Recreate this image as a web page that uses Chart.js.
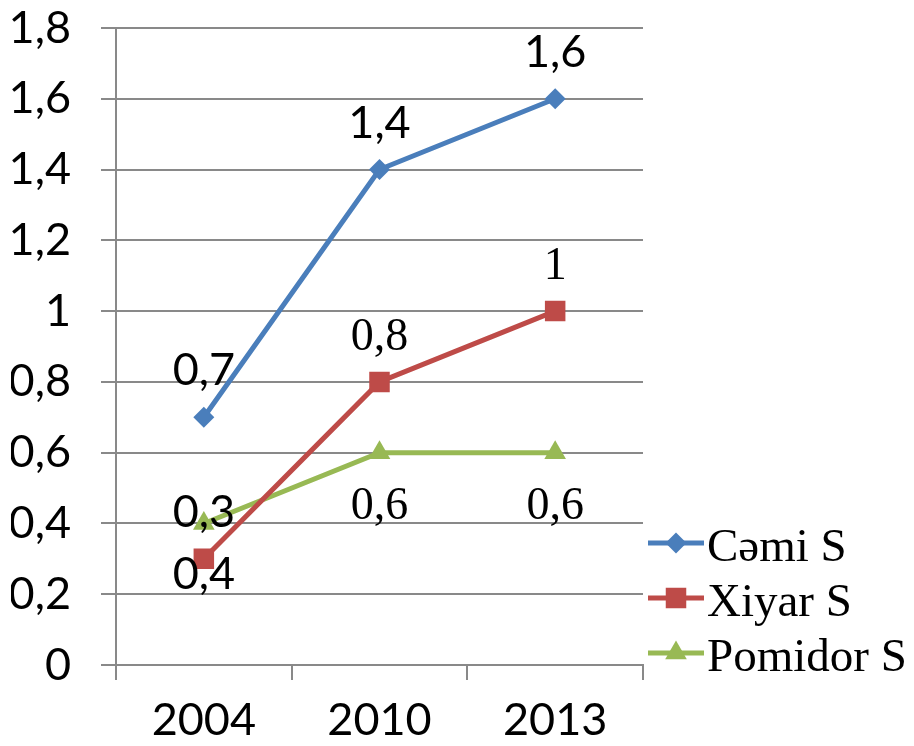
<!DOCTYPE html>
<html lang="az">
<head>
<meta charset="UTF-8">
<title>Cəmi S, Xiyar S, Pomidor S</title>
<script src="https://cdn.jsdelivr.net/npm/chart.js"></script>
<style>
  html, body { margin: 0; padding: 0; background: #fff; }
  #wrap { width: 914px; height: 746px; }
</style>
</head>
<body>
<div id="wrap"><canvas id="chart" width="914" height="746"></canvas></div>
<script>
const years = ['2004', '2010', '2013'];
const cemi = [0.7, 1.4, 1.6];
const xiyar = [0.3, 0.8, 1.0];
const pomidor = [0.4, 0.6, 0.6];
const yTickLabels = ['0', '0,2', '0,4', '0,6', '0,8', '1', '1,2', '1,4', '1,6', '1,8'];

const SANS = 'Lato';
const SERIF = '"Liberation Serif"';
const gridColor = '#898989';

function fmt(v) {
    return String(v).replace('.', ',');
}

// value labels next to each point
const valueLabels = {
    id: 'valueLabels',
    afterDatasetsDraw(chart) {
        const ctx = chart.ctx;
        chart.data.datasets.forEach((ds, i) => {
            const meta = chart.getDatasetMeta(i);
            meta.data.forEach((pt, j) => {
                const serif = ds.labelSerif[j];
                ctx.save();
                ctx.font = serif ? '46px ' + SERIF : '45px ' + SANS;
                ctx.fillStyle = '#000';
                ctx.textAlign = 'center';
                ctx.textBaseline = 'alphabetic';
                ctx.fillText(fmt(ds.data[j]), pt.x, pt.y + (ds.labelBelow ? 66 : -32));
                ctx.restore();
            });
        });
    }
};

// legend at the lower right: line + marker + name
const sideLegend = {
    id: 'sideLegend',
    afterDraw(chart) {
        const { ctx, chartArea } = chart;
        const x0 = chartArea.right + 5;
        const len = 56;
        chart.data.datasets.forEach((ds, i) => {
            const y = chartArea.bottom - 122 + i * 55;
            ctx.save();
            ctx.strokeStyle = ds.borderColor;
            ctx.lineWidth = 5;
            ctx.beginPath();
            ctx.moveTo(x0, y);
            ctx.lineTo(x0 + len, y);
            ctx.stroke();
            ctx.fillStyle = ds.pointBackgroundColor;
            ctx.strokeStyle = ds.pointBackgroundColor;
            Chart.helpers.drawPoint(ctx, {
                pointStyle: ds.pointStyle,
                radius: ds.pointRadius,
                rotation: 0,
                borderWidth: 0
            }, x0 + len / 2, y);
            ctx.fillStyle = '#000';
            ctx.font = '47px ' + SERIF;
            ctx.textAlign = 'left';
            ctx.textBaseline = 'alphabetic';
            ctx.fillText(ds.label, x0 + len + 3, y + 18);
            ctx.restore();
        });
    }
};

const ctx = document.getElementById('chart').getContext('2d');
new Chart(ctx, {
    type: 'line',
    data: {
        labels: years,
        datasets: [{
            label: 'Cəmi S',
            data: cemi,
            borderColor: '#4A7EBB',
            backgroundColor: '#4A7EBB',
            pointBackgroundColor: '#4A7EBB',
            pointBorderWidth: 0,
            pointStyle: 'rectRot',
            pointRadius: 10.5,
            borderWidth: 5,
            labelBelow: false,
            labelSerif: [false, false, false]
        }, {
            label: 'Xiyar S',
            data: xiyar,
            borderColor: '#BE4B48',
            backgroundColor: '#BE4B48',
            pointBackgroundColor: '#BE4B48',
            pointBorderWidth: 0,
            pointStyle: 'rect',
            pointRadius: 14.5,
            borderWidth: 5,
            labelBelow: false,
            labelSerif: [false, true, true]
        }, {
            label: 'Pomidor S',
            data: pomidor,
            borderColor: '#98B954',
            backgroundColor: '#98B954',
            pointBackgroundColor: '#98B954',
            pointBorderWidth: 0,
            pointStyle: 'triangle',
            pointRadius: 12.5,
            borderWidth: 5,
            labelBelow: true,
            labelSerif: [false, true, true]
        }]
    },
    options: {
        responsive: false,
        animation: false,
        layout: {
            padding: { top: 28, right: 271, bottom: 0, left: 11 }
        },
        plugins: {
            legend: { display: false },
            tooltip: { enabled: false }
        },
        scales: {
            x: {
                offset: true,
                afterFit: (scale) => {
                    scale.height = 81;
                    scale.paddingLeft = 0;
                    scale.paddingRight = 0;
                },
                grid: {
                    offset: true,
                    drawOnChartArea: false,
                    drawTicks: true,
                    tickLength: 15,
                    color: gridColor,
                    lineWidth: 2
                },
                border: { color: gridColor, width: 2 },
                ticks: {
                    color: '#000',
                    padding: 16,
                    font: { family: SANS, size: 45, lineHeight: 1.1 }
                }
            },
            y: {
                min: 0,
                max: 1.8,
                afterFit: (scale) => {
                    scale.width = 105;
                    scale.paddingTop = 0;
                    scale.paddingBottom = 0;
                },
                grid: {
                    color: gridColor,
                    lineWidth: 2,
                    tickLength: 15
                },
                border: { color: gridColor, width: 2 },
                ticks: {
                    stepSize: 0.2,
                    color: '#000',
                    padding: 30,
                    font: { family: SANS, size: 45, lineHeight: 1.1 },
                    callback: (value, index) => yTickLabels[index]
                }
            }
        }
    },
    plugins: [valueLabels, sideLegend]
});
</script>
</body>
</html>
